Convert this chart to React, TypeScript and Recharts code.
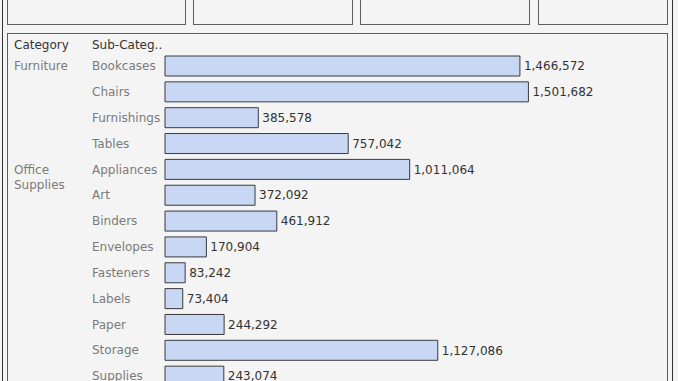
import { BarChart, Bar, XAxis, YAxis, LabelList } from "recharts";

const subCategories = [
  "Bookcases",
  "Chairs",
  "Furnishings",
  "Tables",
  "Appliances",
  "Art",
  "Binders",
  "Envelopes",
  "Fasteners",
  "Labels",
  "Paper",
  "Storage",
  "Supplies",
];

const categories = [
  "Furniture",
  "Furniture",
  "Furniture",
  "Furniture",
  "Office Supplies",
  "Office Supplies",
  "Office Supplies",
  "Office Supplies",
  "Office Supplies",
  "Office Supplies",
  "Office Supplies",
  "Office Supplies",
  "Office Supplies",
];

const sales = [
  1466572, 1501682, 385578, 757042, 1011064, 372092, 461912, 170904, 83242,
  73404, 244292, 1127086, 243074,
];

const data = subCategories.map((sub, i) => ({
  sub,
  category: categories[i],
  value: sales[i],
}));

const FONT = "'DejaVu Sans', Verdana, sans-serif";
const fmt = (v: number) => v.toLocaleString("en-US");

const SubTick = (props: any) => {
  const { y, payload, index } = props;
  const row = data[index];
  const first = index === 0 || data[index - 1].category !== row.category;
  const catLines = row.category.split(" ");
  return (
    <g>
      {first && (
        <text x={14} y={y} dy="0.355em" fill="#7b7b7b" fontSize={12} fontFamily={FONT}>
          {catLines.map((l: string, i: number) => (
            <tspan key={i} x={14} dy={i === 0 ? "0.355em" : 15}>
              {l}
            </tspan>
          ))}
        </text>
      )}
      <text x={92} y={y} dy="0.355em" fill="#7b7b7b" fontSize={12} fontFamily={FONT}>
        {payload.value}
      </text>
    </g>
  );
};

const box = (left: number, right: number, top: number, bottom: number) => ({
  position: "absolute" as const,
  left,
  top,
  width: right - left - 1,
  height: bottom - top - 1,
  border: "1px solid #5e5e5e",
  boxSizing: "content-box" as const,
});

export default function App() {
  return (
    <div
      style={{
        position: "fixed",
        left: 0,
        top: 0,
        width: 678,
        height: 381,
        overflow: "hidden",
        background: "#f4f4f4",
        fontFamily: FONT,
      }}
    >
      <div style={{ position: "absolute", left: 2, top: 0, width: 1, height: 381, background: "#333" }} />
      <div style={{ position: "absolute", left: 672, top: 0, width: 1, height: 381, background: "#333" }} />
      <div style={box(7, 185, -12, 24)} />
      <div style={box(193, 352, -12, 24)} />
      <div style={box(360, 529, -12, 24)} />
      <div style={box(538, 667, -12, 24)} />
      <div style={box(7, 667, 33, 420)} />
      <div style={{ position: "absolute", left: 14, top: 38, fontSize: 12, color: "#333" }}>Category</div>
      <div style={{ position: "absolute", left: 92, top: 38, fontSize: 12, color: "#333" }}>Sub-Categ..</div>
      <div style={{ position: "absolute", left: 0, top: 0 }}>
        <BarChart
          width={678}
          height={389}
          data={data}
          layout="vertical"
          margin={{ top: 53, right: 29, bottom: 0, left: 0 }}
          barCategoryGap={6}
        >
          <XAxis type="number" hide domain={[0, 2000000]} />
          <YAxis
            type="category"
            dataKey="sub"
            width={165}
            axisLine={false}
            tickLine={false}
            tick={<SubTick />}
            interval={0}
          />
          <Bar
            dataKey="value"
            fill="#c8d8f4"
            stroke="#3a3a3a"
            strokeWidth={1}
            barSize={20}
            isAnimationActive={false}
          >
            <LabelList
              dataKey="value"
              position="right"
              offset={4}
              formatter={(v: any) => fmt(Number(v))}
              fill="#333"
              fontSize={12}
              fontFamily={FONT}
            />
          </Bar>
        </BarChart>
      </div>
    </div>
  );
}
